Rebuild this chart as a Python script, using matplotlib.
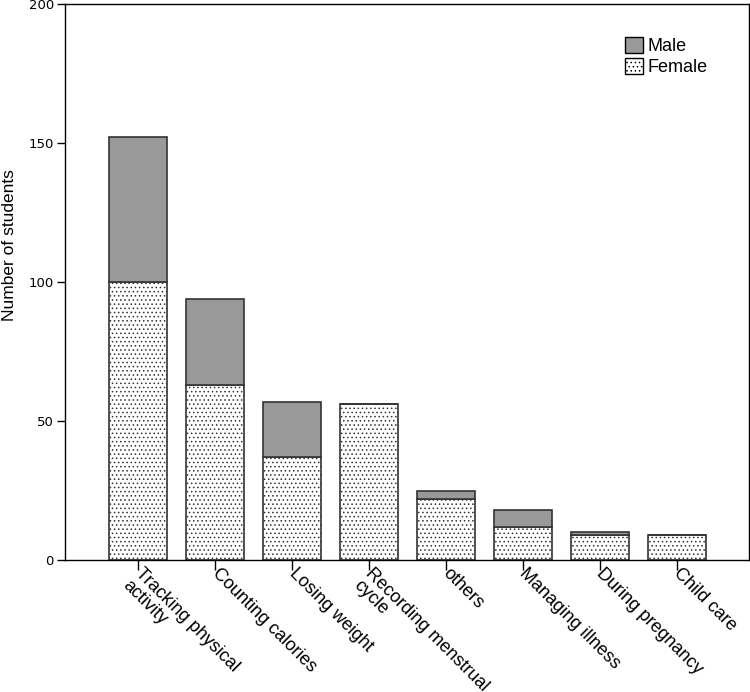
import matplotlib.pyplot as plt
from matplotlib.patches import Patch
from matplotlib.transforms import ScaledTranslation

# Datos
categorias = ["Tracking physical\nactivity", "Counting calories", "Losing weight",
              "Recording menstrual\ncycle", "others", "Managing illness",
              "During pregnancy", "Child care"]
female = [100, 63, 37, 56, 22, 12, 9, 9]
male = [52, 31, 20, 0, 3, 6, 1, 0]

plt.rcParams['font.family'] = ['Liberation Sans', 'DejaVu Sans']
plt.rcParams['hatch.linewidth'] = 0.6

fig = plt.figure(figsize=(7.5, 6.92), dpi=100)
ax = fig.add_axes([65 / 750, 1 - 560 / 692, 684 / 750, 556 / 692])

x = list(range(len(categorias)))
ax.bar(x, female, width=0.75, color='white', edgecolor='#333333', hatch='....', linewidth=1.2)
ax.bar(x, male, width=0.75, bottom=female, color='#999999', edgecolor='#333333', linewidth=1.2)

ax.set_xlim(-0.95, 7.94)
ax.set_ylim(0, 200)
ax.set_yticks([0, 50, 100, 150, 200])
ax.set_yticklabels(["0", "50", "100", "150", "200"], family='DejaVu Sans', fontsize=9.5)
ax.set_xticks(x)
ax.set_xticklabels(categorias, rotation=-45, ha='left', va='top', rotation_mode='anchor',
                   fontsize=13, linespacing=1.0)
ax.tick_params(axis='x', length=7.5, width=1, pad=0)
ax.tick_params(axis='y', length=6, width=1, pad=2)
ax.set_ylabel("Number of students", fontsize=12.5, labelpad=4)
ax.yaxis.set_label_coords(-0.07, 0.567)

# mover etiquetas un poco hacia arriba a la derecha
desplaz = ScaledTranslation(4 / 72, 4 / 72, fig.dpi_scale_trans)
for lab in ax.get_xticklabels():
    lab.set_transform(lab.get_transform() + desplaz)

for s in ax.spines.values():
    s.set_linewidth(1.0)

# Leyenda
handles = [Patch(facecolor='#999999', edgecolor='black', label='Male'),
           Patch(facecolor='white', edgecolor='black', hatch='....', label='Female')]
ax.legend(handles=handles, loc='upper left', bbox_to_anchor=(0.805, 0.957), frameon=False,
          fontsize=13, handlelength=1.0, handleheight=1.0, handletextpad=0.25,
          labelspacing=0.15, borderpad=0)

plt.savefig("out.png", dpi=100)
